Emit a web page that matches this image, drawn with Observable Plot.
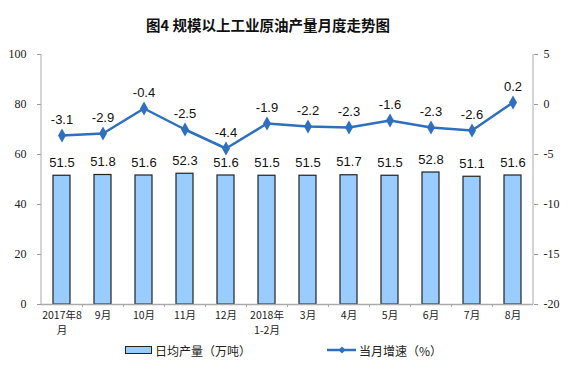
<!DOCTYPE html>
<html><head><meta charset="utf-8">
<script src="https://cdn.jsdelivr.net/npm/d3@7"></script>
<script src="https://cdn.jsdelivr.net/npm/@observablehq/plot@0.6"></script>
<style>
body{margin:0;background:#fff;width:576px;height:384px;overflow:hidden;font-family:"Noto Sans CJK SC",sans-serif;}
#title{height:40px;line-height:50px;text-align:center;font-size:14.5px;font-weight:bold;color:#111;padding-right:40px;box-sizing:border-box;}
#legend{position:absolute;top:341px;left:0;width:576px;height:18px;font-size:12px;color:#222;}
.it{position:absolute;top:0;display:flex;align-items:center;height:18px;}
</style></head>
<body>
<div id="title">图4 规模以上工业原油产量月度走势图</div>
<div id="chart"></div>
<div id="legend">
  <div class="it" style="left:125px"><span style="display:inline-block;width:25px;height:6px;background:#99ccff;border:1px solid #222;margin-right:3px"></span>日均产量（万吨）</div>
  <div class="it" style="left:327px"><svg width="30" height="10" style="margin-right:2px"><line x1="0" y1="5" x2="29" y2="5" stroke="#2e6fbf" stroke-width="2.5"/><path d="M15,1.5L18.5,5L15,8.5L11.5,5Z" fill="#2e6fbf"/></svg>当月增速（%）</div>
</div>
<script>
const months = ["2017年8月","9月","10月","11月","12月","2018年1-2月","3月","4月","5月","6月","7月","8月"];
const tickLine1 = ["2017年8","9月","10月","11月","12月","2018年","3月","4月","5月","6月","7月","8月"];
const tickLine2 = ["月","","","","","1-2月","","","","","",""];
const output = [51.5,51.8,51.6,52.3,51.6,51.5,51.5,51.7,51.5,52.8,51.1,51.6];
const growth = [-3.1,-2.9,-0.4,-2.5,-4.4,-1.9,-2.2,-2.3,-1.6,-2.3,-2.6,0.2];
const leftTicks = [0,20,40,60,80,100];
const rightTicks = [-20,-15,-10,-5,0,5];

const toLeft = v => (v + 20) * 4;
const barData = months.map((m,i)=>({m, v: output[i]}));
const lineData = months.map((m,i)=>({m, g: growth[i], y: toLeft(growth[i])}));
const line2Data = months.map((m,i)=>({m, t: tickLine2[i]})).filter(d => d.t);
const step = (576 - 41 - 43) / months.length;
const xFont = "Noto Sans CJK SC, sans-serif";

const chart = Plot.plot({
  width: 576, height: 300,
  marginTop: 14, marginBottom: 36, marginLeft: 41, marginRight: 43,
  x: {domain: months, paddingInner: 0.585, paddingOuter: 0.2925},
  y: {domain: [0,100]},
  style: {background: "#fff", overflow: "visible"},
  marks: [
    Plot.barY(barData, {x: "m", y: "v", fill: "#99ccff", stroke: "#222", strokeWidth: 1.2}),
    Plot.text(barData, {x: "m", y: "v", text: d => d.v.toFixed(1), dy: -13, fontSize: 13, fill: "#111", fontFamily: "Liberation Sans, Arial, sans-serif"}),
    Plot.line(lineData, {x: "m", y: "y", stroke: "#2e6fbf", strokeWidth: 2.5}),
    Plot.dot(lineData, {x: "m", y: "y", symbol: "diamond", r: 4.2, fill: "#2e6fbf", stroke: "none"}),
    Plot.text(lineData, {x: "m", y: "y", text: d => d.g.toFixed(1), dy: -16, fontSize: 13, fill: "#111", fontFamily: "Liberation Sans, Arial, sans-serif"}),
    Plot.ruleY([0], {stroke: "#aaa", strokeWidth: 1.5}),
    Plot.ruleX(months.slice(1), {x: d => d, y1: 0, y2: 0, dx: -step/2, insetBottom: -3, stroke: "#aaa"}),
    Plot.axisY({anchor: "left", ticks: leftTicks, tickSize: 4, tickPadding: 11, stroke: "#999", fontSize: 12, fontFamily: "Liberation Serif, Times New Roman, serif", color: "#222", label: null}),
    Plot.axisY({anchor: "right", ticks: rightTicks.map(toLeft), tickFormat: d => String(d/4 - 20), tickSize: 4, tickPadding: 6, stroke: "#999", fontSize: 12, fontFamily: "Liberation Serif, Times New Roman, serif", color: "#222", label: null}),
    Plot.axisX({tickSize: 0, tickPadding: 7, tickFormat: m => tickLine1[months.indexOf(m)], fontSize: 10.5, fontFamily: xFont, color: "#222", label: null}),
    Plot.text(line2Data, {x: "m", frameAnchor: "bottom", dy: 29.5, text: "t", fontSize: 10.5, fontFamily: xFont, fill: "#222"})
  ]
});
// vertical axis lines
const svg = d3.select(chart);
svg.append("line").attr("x1",41).attr("x2",41).attr("y1",14).attr("y2",264).attr("stroke","#aaa");
svg.append("line").attr("x1",533).attr("x2",533).attr("y1",14).attr("y2",264).attr("stroke","#aaa");
document.getElementById("chart").appendChild(chart);
</script>
</body></html>
